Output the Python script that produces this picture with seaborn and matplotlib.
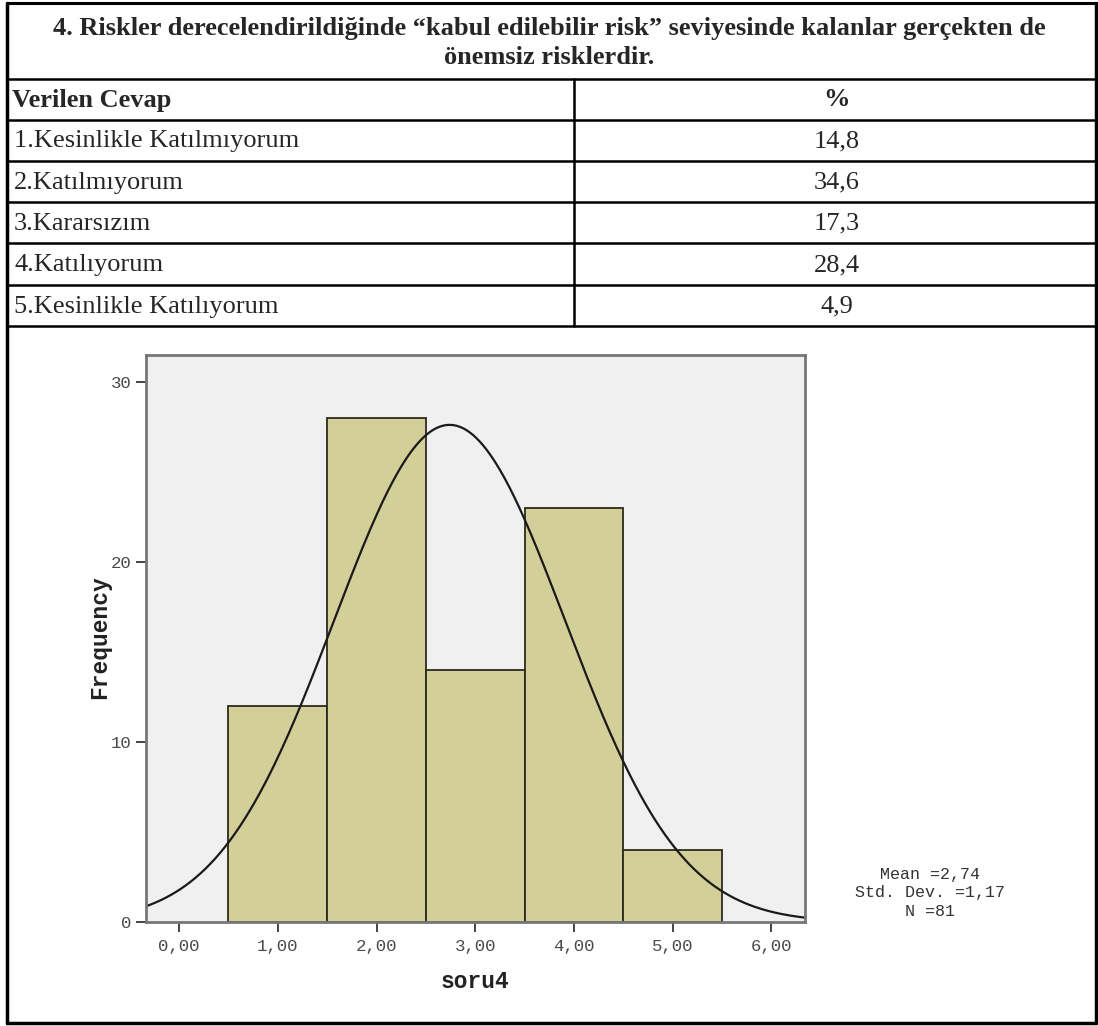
import numpy as np
import pandas as pd
import matplotlib
matplotlib.use("Agg")
import matplotlib.pyplot as plt
from matplotlib.lines import Line2D
import seaborn as sns

# ---------------- data ----------------
title_lines = ["4. Riskler derecelendirildiğinde “kabul edilebilir risk” seviyesinde kalanlar gerçekten de",
               "önemsiz risklerdir."]
header = ["Verilen Cevap", "%"]
answers = ["1.Kesinlikle Katılmıyorum", "2.Katılmıyorum", "3.Kararsızım",
           "4.Katılıyorum", "5.Kesinlikle Katılıyorum"]
percents = ["14,8", "34,6", "17,3", "28,4", "4,9"]

scores = [1, 2, 3, 4, 5]
counts = [12, 28, 14, 23, 4]
stat_mean = 2.74
stat_sd = 1.17
stat_n = 81
x_ticks = [0, 1, 2, 3, 4, 5, 6]
y_ticks = [0, 10, 20, 30]
x_label = "soru4"
y_label = "Frequency"

# ---------------- figure ----------------
sns.set_style("white")
plt.rcParams['font.family'] = ['Liberation Serif', 'DejaVu Serif']
W, H = 1098, 1026
fig = plt.figure(figsize=(W / 100, H / 100), dpi=100)
fig.patch.set_facecolor("white")

def fx(x):
    return x / W

def fy(y):
    return 1 - y / H

def hline(y, x0, x1, lw=2.0):
    fig.add_artist(Line2D([fx(x0), fx(x1)], [fy(y), fy(y)], color="black", lw=lw,
                          transform=fig.transFigure))

def vline(x, y0, y1, lw=2.0):
    fig.add_artist(Line2D([fx(x), fx(x)], [fy(y0), fy(y1)], color="black", lw=lw,
                          transform=fig.transFigure))

# outer frame
L, R, T, B = 7, 1096, 3, 1023
hline(T, L, R, 2.2)
hline(B, L, R, 2.5)
vline(L, T, B, 2.5)
vline(R, T, B, 2.5)

# table grid
row_lines = [79, 120, 161, 202, 243, 285, 326]
for y in row_lines:
    hline(y, L, R, 1.8)
COL = 574
vline(COL, row_lines[0], row_lines[-1], 1.8)

# title
fig.text(fx(549), fy(29), title_lines[0], ha="center", va="center",
         fontsize=19, fontweight="bold")
fig.text(fx(549), fy(58), title_lines[1], ha="center", va="center",
         fontsize=19, fontweight="bold")

# header
fig.text(fx(12), fy(100), header[0], ha="left", va="center", fontsize=19, fontweight="bold")
fig.text(fx(837), fy(100), header[1], ha="center", va="center", fontsize=19, fontweight="bold")

for i, (a, p) in enumerate(zip(answers, percents)):
    yc = (row_lines[i + 1] + row_lines[i + 2]) / 2 + 1
    fig.text(fx(14), fy(yc), a, ha="left", va="center", fontsize=19)
    fig.text(fx(837), fy(yc), p, ha="center", va="center", fontsize=19)

# ---------------- histogram ----------------
ax_l, ax_r, ax_t, ax_b = 146, 805, 355, 922
ax = fig.add_axes([fx(ax_l), fy(ax_b), (ax_r - ax_l) / W, (ax_b - ax_t) / H])
ax.set_facecolor("#f0f0f0")

df = pd.DataFrame({"score": scores, "count": counts})
sns.histplot(data=df, x="score", weights="count", discrete=True, ax=ax,
             color="#d3cf99", alpha=1.0, edgecolor="#2b2b1c", linewidth=1.3)

xmin, xmax = -0.335, 6.34
xs = np.linspace(xmin, xmax, 400)
ys = stat_n * np.exp(-0.5 * ((xs - stat_mean) / stat_sd) ** 2) / (stat_sd * np.sqrt(2 * np.pi))
ax.plot(xs, ys, color="#1a1a1a", lw=1.6)

ax.set_xlim(xmin, xmax)
ax.set_ylim(0, 31.5)
ax.set_xticks(x_ticks)
ax.set_xticklabels([f"{v:.2f}".replace(".", ",") for v in x_ticks])
ax.set_yticks(y_ticks)
ax.set_yticklabels([str(v) for v in y_ticks])

mono = ['Liberation Mono', 'DejaVu Sans Mono']
for lab in ax.get_xticklabels() + ax.get_yticklabels():
    lab.set_family(mono)
    lab.set_fontsize(12.5)
    lab.set_color("#4a4a4a")
ax.tick_params(axis="both", direction="out", length=7.5, width=1.4, color="#444444",
               bottom=True, left=True, pad=3)
ax.tick_params(axis="x", pad=5)

for s in ax.spines.values():
    s.set_visible(True)
    s.set_color("#777777")
    s.set_linewidth(2.0)

ax.set_xlabel("")
ax.set_ylabel("")
fig.text(fx(475), fy(982), x_label, ha="center", va="center", family=mono,
         fontsize=16.5, fontweight="bold", color="#222222")
fig.text(fx(100), fy(637), y_label, ha="center", va="center", family=mono,
         fontsize=16.5, fontweight="bold", color="#222222", rotation=90)

def fmt(v):
    return f"{v:.2f}".replace(".", ",")

stat_lines = ["Mean =" + fmt(stat_mean),
              "Std. Dev. =" + fmt(stat_sd),
              f"N ={stat_n}"]
for j, s in enumerate(stat_lines):
    fig.text(fx(930), fy(875 + 18 * j), s, ha="center", va="center", family=mono,
             fontsize=12, color="#333333")

fig.savefig("out.png", dpi=100, facecolor="white")
